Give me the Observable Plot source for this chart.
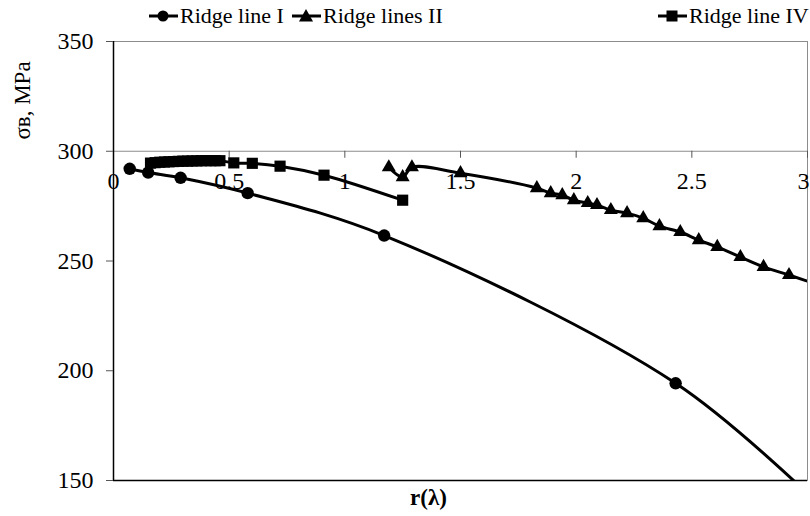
<!DOCTYPE html>
<html><head><meta charset="utf-8">
<script src="https://cdn.jsdelivr.net/npm/d3@7"></script>
<script src="https://cdn.jsdelivr.net/npm/@observablehq/plot@0.6"></script>
<style>
body{margin:0;background:#fff;font-family:"Liberation Serif","Times New Roman",serif;}
#wrap{position:relative;width:810px;height:516px;}
#legend{position:absolute;left:0;top:0;height:30px;width:810px;z-index:2;}
.item{position:absolute;top:3px;display:flex;align-items:center;font-size:22px;white-space:nowrap;color:#000;}
.item svg{margin-right:1px;}
</style></head><body>
<div id="wrap">
<div id="legend"></div>
<div id="chart"></div>
</div>
<script>
const seriesNames = ["Ridge line I", "Ridge lines II", "Ridge line IV"];
const seriesSymbols = ["circle", "triangle", "square"];

// Ridge line I (circles); last point lies outside the axes and is clipped
const ridge1X = [0.07, 0.15, 0.29, 0.58, 1.17, 2.43, 3.05];
const ridge1Y = [292.0, 290.3, 287.9, 280.9, 261.6, 194.3, 139];

// Ridge lines II (triangles); last point outside the axes
const ridge2X = [1.19, 1.25, 1.29, 1.50, 1.83, 1.89, 1.94, 1.99, 2.05, 2.09, 2.15, 2.22, 2.29, 2.36, 2.45, 2.53, 2.61, 2.71, 2.81, 2.92, 3.08];
const ridge2Y = [292.7, 288.2, 292.7, 290.0, 283.2, 280.9, 280.0, 277.7, 276.4, 275.5, 273.2, 271.8, 269.5, 265.9, 263.2, 259.5, 256.4, 251.8, 247.3, 243.6, 238];

// Ridge line IV (squares)
const ridge4X = [0.16, 0.18, 0.20, 0.22, 0.24, 0.26, 0.28, 0.30, 0.32, 0.34, 0.36, 0.38, 0.40, 0.42, 0.44, 0.46, 0.52, 0.60, 0.72, 0.91, 1.25];
const ridge4Y = [294.6, 294.8, 295.0, 295.1, 295.2, 295.3, 295.4, 295.5, 295.5, 295.6, 295.6, 295.7, 295.7, 295.7, 295.7, 295.7, 294.7, 294.5, 293.2, 289.1, 277.7];

const xTicks = [0, 0.5, 1, 1.5, 2, 2.5, 3];
const xTickLabels = ["0", "0.5", "1", "1.5", "2", "2.5", "3"];
const yTicks = [150, 200, 250, 300, 350];
const xTitle = "r(λ)";
const yTitle = "σв, MPa";

const toRows = (xs, ys, name) => xs.map((x, i) => ({x, y: ys[i], series: name}));
const rows1 = toRows(ridge1X, ridge1Y, seriesNames[0]);
const rows2 = toRows(ridge2X, ridge2Y, seriesNames[1]);
const rows4 = toRows(ridge4X, ridge4Y, seriesNames[2]);
const allRows = [...rows1, ...rows2, ...rows4];
const xTickRows = xTicks.map((v, i) => ({v, label: xTickLabels[i]}));
const lastTick = xTickRows.length - 1;

// legend
const legendLeft = [148, 291, 657];
const legend = document.getElementById("legend");
seriesNames.forEach((name, i) => {
  const div = document.createElement("div");
  div.className = "item";
  div.style.left = legendLeft[i] + "px";
  let marker;
  if (seriesSymbols[i] === "circle") marker = '<circle cx="15" cy="12" r="5.5" fill="#000"/>';
  else if (seriesSymbols[i] === "triangle") marker = '<path d="M15,5 L22,17.5 L8,17.5 Z" fill="#000"/>';
  else marker = '<rect x="9.5" y="6.5" width="11" height="11" fill="#000"/>';
  div.innerHTML = `<svg width="31" height="24"><line x1="1" y1="12" x2="30" y2="12" stroke="#000" stroke-width="3"/>${marker}</svg><span>${name}</span>`;
  legend.appendChild(div);
});

const chart = Plot.plot({
  width: 810,
  height: 516,
  marginLeft: 113,
  marginRight: 3,
  marginTop: 41,
  marginBottom: 36,
  x: {domain: [0, 3], axis: null},
  y: {domain: [150, 350], axis: null},
  style: {fontFamily: "Liberation Serif, Times New Roman, serif", fontSize: "24px", color: "#000", background: "#fff"},
  marks: [
    Plot.frame({stroke: "#8c8c8c"}),
    Plot.ruleY([300], {stroke: "#8c8c8c", strokeWidth: 1.2}),
    Plot.ruleX(xTickRows, {x: "v", y1: 300, y2: 300, insetBottom: -7, stroke: "#555"}),
    Plot.text(xTickRows.slice(0, lastTick), {x: "v", y: 300, dy: 30, text: "label", fontSize: 24}),
    Plot.text(xTickRows.slice(lastTick), {x: "v", y: 300, dy: 30, text: "label", fontSize: 24, textAnchor: "end", dx: 2}),
    Plot.ruleX([0], {stroke: "#000", strokeWidth: 1.5}),
    Plot.ruleY([150], {stroke: "#000", strokeWidth: 1.5}),
    Plot.axisY({ticks: yTicks, tickSize: 7, tickPadding: 13, fontSize: 24, label: null, stroke: "#555"}),
    Plot.line(allRows, {x: "x", y: "y", z: "series", curve: "catmull-rom", stroke: "#000", strokeWidth: 3, clip: true}),
    Plot.dot(rows1, {x: "x", y: "y", symbol: "circle", r: 6.2, fill: "#000", clip: true}),
    Plot.dot(rows2, {x: "x", y: "y", symbol: "triangle", r: 5.2, fill: "#000", clip: true}),
    Plot.dot(rows4, {x: "x", y: "y", symbol: "square", r: 6.3, fill: "#000", clip: true}),
    Plot.text([yTitle], {frameAnchor: "top-left", dx: -91, dy: 59, rotate: -90, textAnchor: "middle", lineAnchor: "middle", fontSize: 23}),
    Plot.text([xTitle], {frameAnchor: "bottom", dx: -32, dy: 17, textAnchor: "middle", lineAnchor: "middle", fontWeight: "bold", fontSize: 23})
  ]
});
document.getElementById("chart").appendChild(chart);
</script>
</body></html>
